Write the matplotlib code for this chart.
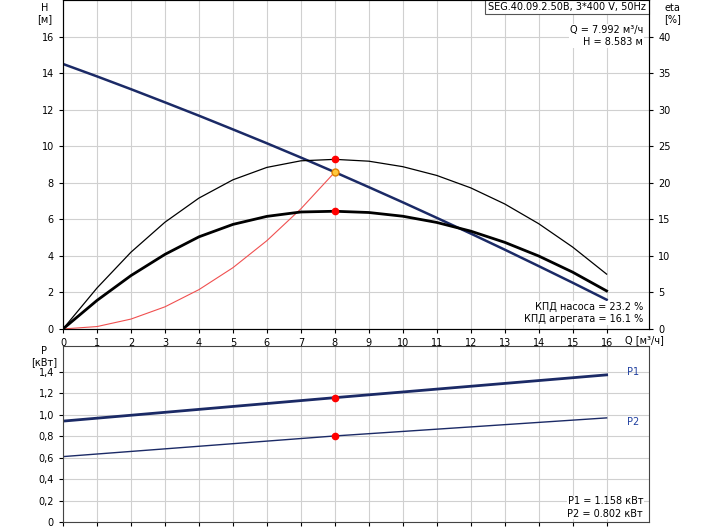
import numpy as np
import matplotlib

matplotlib.use("Agg")
import matplotlib.pyplot as plt  # noqa: E402

# flow points [m3/h]
q = list(range(0, 17))
# head curve [m]
head = [14.5, 13.82, 13.12, 12.40, 11.67, 10.92, 10.16, 9.38, 8.58,
        7.76, 6.93, 6.08, 5.22, 4.34, 3.44, 2.53, 1.6]
# efficiencies [%]
eta_pump = [0, 5.6, 10.5, 14.6, 17.9, 20.4, 22.1, 23.0, 23.2,
            22.95, 22.2, 21.0, 19.3, 17.1, 14.4, 11.2, 7.5]
eta_unit = [0, 3.9, 7.3, 10.2, 12.6, 14.3, 15.4, 16.0, 16.1,
            15.93, 15.42, 14.57, 13.38, 11.85, 9.98, 7.77, 5.2]
# system curve up to duty point
q_sys = [0, 1, 2, 3, 4, 5, 6, 7, 8]
h_sys = [0, 0.13, 0.54, 1.21, 2.15, 3.35, 4.83, 6.57, 8.58]
# power [kW]
q_p = [0, 8, 16]
p1 = [0.94, 1.158, 1.37]
p2 = [0.61, 0.802, 0.97]

q_op, h_op = 7.992, 8.583

navy = "#1b2a66"
grid_c = "#d0d0d0"

plt.rcParams["font.family"] = ["DejaVu Sans"]
plt.rcParams["font.size"] = 7

fig = plt.figure(figsize=(7.04, 5.28), dpi=100)
ax = fig.add_axes([0.0895, 0.377, 0.8325, 0.623])
axp = fig.add_axes([0.0895, 0.011, 0.8325, 0.334])

for a in (ax, axp):
    a.set_xlim(0, 17.25)
    a.set_xticks(range(0, 17))
    a.grid(True, color=grid_c, linewidth=0.8)
    a.tick_params(length=3, labelsize=7)
    for s in a.spines.values():
        s.set_color("#444444")

# top plot
ax.set_ylim(0, 18)
ax.set_yticks(range(0, 17, 2))
ax.plot(q, head, color=navy, linewidth=1.8)
ax.plot(q_sys, h_sys, color="#f05050", linewidth=0.8)
ax2 = ax.twinx()
ax2.set_ylim(0, 45)
ax2.set_yticks(range(0, 41, 5))
ax2.tick_params(length=3, labelsize=7)
ax2.plot(q, eta_pump, color="black", linewidth=0.9)
ax2.plot(q, eta_unit, color="black", linewidth=2.0)
ax2.plot([8], [23.2], "o", color="red", markersize=4.5, zorder=5)
ax2.plot([8], [16.1], "o", color="red", markersize=4.5, zorder=5)
ax.plot([q_op], [h_op], "o", color="#ffc83c", markeredgecolor="#e08000",
        markersize=5, zorder=5)
ax.text(16.55, -0.35, "Q [м³/ч]", fontsize=7, va="top", ha="left")

fig.text(0.063, 0.995, "H\n[м]", fontsize=7, va="top", ha="center")
fig.text(0.955, 0.995, "eta\n[%]", fontsize=7, va="top", ha="center")

ax.text(0.995, 0.995, "SEG.40.09.2.50B, 3*400 V, 50Hz", transform=ax.transAxes,
        ha="right", va="top", fontsize=7,
        bbox=dict(facecolor="white", edgecolor="#555555", linewidth=0.8, pad=2))
ax.text(0.99, 0.925, "Q = 7.992 м³/ч\nH = 8.583 м", transform=ax.transAxes,
        ha="right", va="top", fontsize=7, linespacing=1.3,
        bbox=dict(facecolor="white", edgecolor="none", pad=0.5))
ax.text(0.99, 0.015, "КПД насоса = 23.2 %\nКПД агрегата = 16.1 %",
        transform=ax.transAxes, ha="right", va="bottom", fontsize=7,
        linespacing=1.3, bbox=dict(facecolor="white", edgecolor="none", pad=0.5))

# bottom plot
axp.set_ylim(0, 1.64)
ticks_p = np.arange(0, 1.41, 0.2)
axp.set_yticks(ticks_p)
axp.set_yticklabels([f"{v:.1f}".replace(".", ",") if v > 0 else "0" for v in ticks_p])
axp.tick_params(labelbottom=False)
axp.plot(q_p, p1, color=navy, linewidth=2.0)
axp.plot(q_p, p2, color=navy, linewidth=1.0)
axp.plot([8, 8], [p1[1], p2[1]], "o", color="red", markersize=4.5, zorder=5)
axp.text(16.6, 1.40, "P1", color="#2040a0", fontsize=7, va="center")
axp.text(16.6, 0.93, "P2", color="#2040a0", fontsize=7, va="center")
axp.text(0.99, 0.02, "P1 = 1.158 кВт\nP2 = 0.802 кВт", transform=axp.transAxes,
         ha="right", va="bottom", fontsize=7, linespacing=1.3,
         bbox=dict(facecolor="white", edgecolor="none", pad=0.5))
fig.text(0.063, 0.345, "P\n[кВт]", fontsize=7, va="top", ha="center")

fig.savefig("out.png", dpi=100)
